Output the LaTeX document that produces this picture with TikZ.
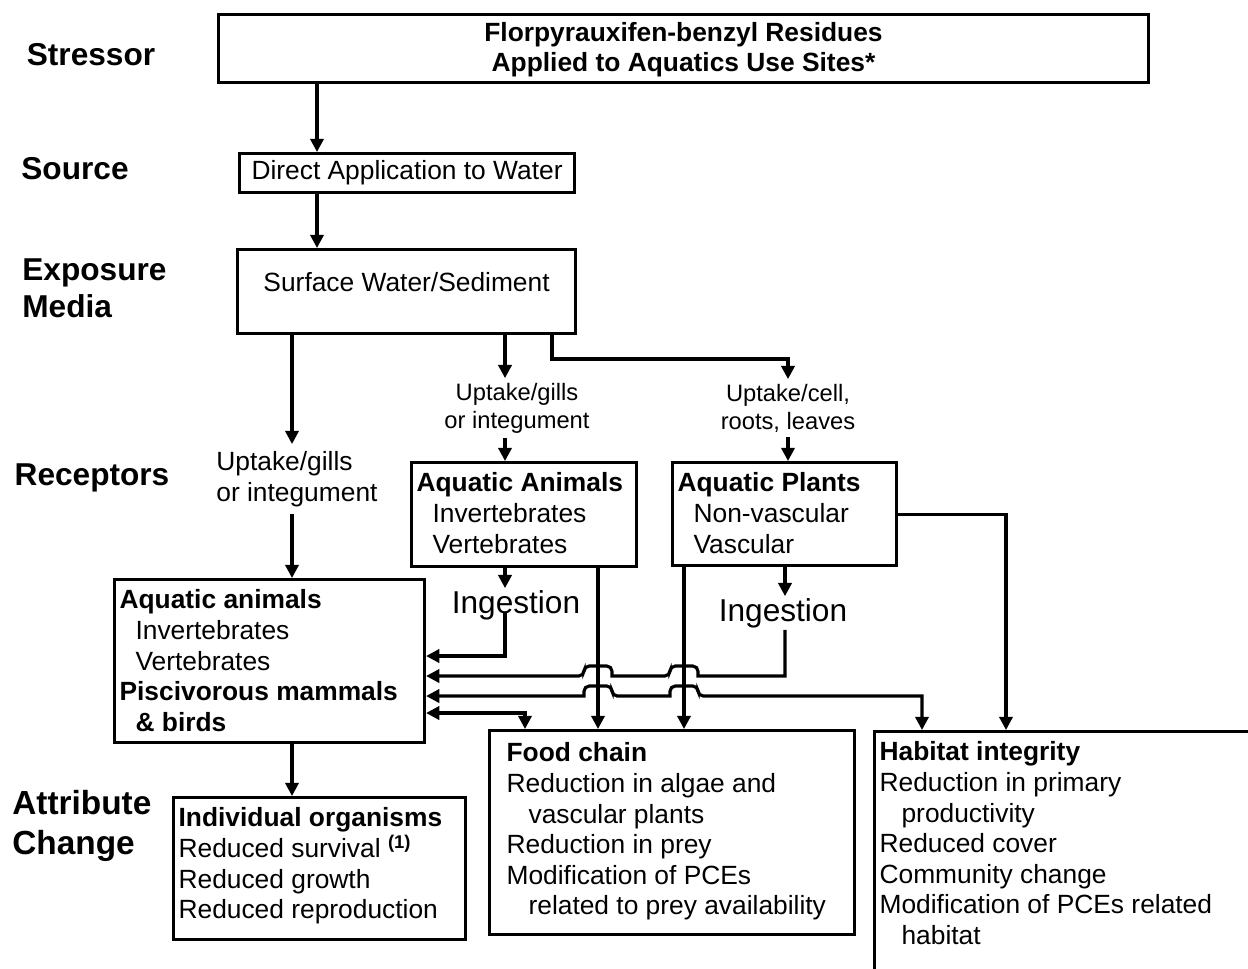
\documentclass[tikz,border=0pt]{standalone}
\usepackage{fontspec}
\setmainfont{Liberation Sans}
\usetikzlibrary{arrows.meta,calc}

\newcommand{\boxtext}[3]{\begin{minipage}[t][#2][t]{#1}\vspace*{3pt}#3\end{minipage}}
\newcommand{\indsm}{\hspace*{0.32cm}}
\newcommand{\indlg}{\hspace*{0.44cm}}

\tikzset{
  box/.style={draw, line width=1.8pt, inner sep=0.1cm, anchor=north west,
    font=\fontsize{15}{17.4}\selectfont},
  arr/.style={line width=1.8pt, -{Triangle[length=7.5pt,width=7.5pt]}},
  arrboth/.style={line width=1.8pt,
    {Triangle[length=7.5pt,width=7.5pt]}-{Triangle[length=7.5pt,width=7.5pt]}},
  stage/.style={font=\fontsize{18}{21}\selectfont\bfseries, align=left, inner sep=0pt},
  route/.style={font=\fontsize{15}{17.4}\selectfont, align=left, inner sep=4pt},
  routesm/.style={font=\fontsize{13.5}{16}\selectfont, align=center, inner sep=2.5pt},
  ingest/.style={font=\fontsize{18}{21}\selectfont, inner sep=1pt},
}

\begin{document}
\begin{tikzpicture}[x=0.02cm, y=-0.02cm]

  \path[use as bounding box] (0,0) rectangle (1248,968);
  \clip (0,0) rectangle (1248,968);

  % Stage labels
  \node[stage] (lblStressor) at (91,55) {Stressor};
  \node[stage] (lblSource) at (75,169) {Source};
  \node[stage, anchor=west] (lblMedia) at (22,288) {Exposure\\Media};
  \node[stage] (lblReceptors) at (92,478) {Receptors};
  \node[stage, anchor=west, font=\fontsize{19}{22.7}\selectfont\bfseries] (lblAttr) at (12,826) {Attribute\\Change};

  % Boxes
  \node[box, minimum width=18.6cm, minimum height=1.36cm, inner sep=0pt] (stress) at (217,13)
    {\bfseries\begin{tabular}{@{}c@{}}\rule{0pt}{14pt}Florpyrauxifen-benzyl Residues\\Applied to Aquatics Use Sites*\end{tabular}};
  \node[box, minimum width=6.7cm, minimum height=0.78cm, inner sep=0pt] (direct) at (238,152)
    {Direct Application to Water};
  \node[box] (media) at (236,248)
    {\boxtext{6.56cm}{1.48cm}{\centering\vspace*{0.26cm}Surface Water/Sediment}};
  \node[box] (animals) at (410,461)
    {\boxtext{4.3cm}{1.88cm}{\textbf{Aquatic Animals}\\\indsm Invertebrates\\\indsm Vertebrates}};
  \node[box] (plants) at (671,461)
    {\boxtext{4.28cm}{1.86cm}{\textbf{Aquatic Plants}\\\indsm Non-vascular\\\indsm Vascular}};
  \node[box] (recep) at (113,578)
    {\boxtext{6.0cm}{3.06cm}{\textbf{Aquatic animals}\\\indsm Invertebrates\\\indsm Vertebrates\\
      \textbf{Piscivorous mammals}\\\indsm\textbf{\& birds}}};
  \node[box] (indiv) at (172,796)
    {\boxtext{5.64cm}{2.64cm}{\textbf{Individual organisms}\\Reduced survival \textsuperscript{\bfseries(1)}\\
      Reduced growth\\Reduced reproduction}};
  \node[box] (food) at (488,729)
    {\boxtext{7.1cm}{3.88cm}{\leftskip=0.24cm\vspace*{0.04cm}\textbf{Food chain}\\Reduction in algae and\\
      \indlg vascular plants\\Reduction in prey\\Modification of PCEs\\\indlg related to prey availability}};
  \node[box] (habitat) at (873,730)
    {\boxtext{9cm}{6cm}{\textbf{Habitat integrity}\\Reduction in primary\\\indlg productivity\\Reduced cover\\
      Community change\\Modification of PCEs related\\\indlg habitat}};

  % Route labels
  \node[route, anchor=west] (upL) at (209,479) {Uptake/gills\\or integument};
  \node[routesm] (upM) at (517,408) {Uptake/gills\\or integument};
  \node[routesm] (upP) at (788,408) {Uptake/cell,\\roots, leaves};
  \node[ingest] (ingA) at (516,605) {Ingestion};
  \node[ingest] (ingP) at (783,613) {Ingestion};

  % Connector columns and rows
  \coordinate (cSrc) at (317,0);
  \coordinate (cL) at (292,0);
  \coordinate (cM) at (505,0);
  \coordinate (cMP) at (552,0);
  \coordinate (cP) at (788,0);
  \coordinate (cIP) at (785,0);
  \coordinate (cFA) at (598,0);
  \coordinate (cFP) at (684,0);
  \coordinate (cFL) at (525,0);
  \coordinate (cH) at (1006,0);
  \coordinate (cH2) at (922,0);
  \coordinate (rowU) at (0,359);
  \coordinate (rowA) at (0,656);
  \coordinate (rowP) at (0,676);
  \coordinate (rowH) at (0,696);
  \coordinate (rowD) at (0,713);

  % Stressor to media
  \draw[arr] (stress.south -| cSrc) -- (direct.north -| cSrc);
  \draw[arr] (direct.south -| cSrc) -- (media.north -| cSrc);

  % Media to receptors
  \draw[arr] (media.south -| cL) -- (upL.north -| cL);
  \draw[arr] (upL.south -| cL) -- (recep.north -| cL);
  \draw[arr] (media.south -| cM) -- (upM.north -| cM);
  \draw[arr] (upM.south -| cM) -- (animals.north -| cM);
  \draw[arr] (media.south -| cMP) -- (cMP |- rowU) -| (upP.north -| cP);
  \draw[arr] (upP.south -| cP) -- (plants.north -| cP);

  % Receptors to effects
  \draw[arr] (animals.south -| cM) -- (ingA.north -| cM);
  \draw[arr] (ingA.base -| cM) |- (recep.east |- rowA);
  \draw[arr] (plants.south -| cIP) -- (ingP.north -| cIP);
  \draw[arr] (animals.south -| cFA) -- (food.north -| cFA);
  \draw[arr] (plants.south -| cFP) -- (food.north -| cFP);
  \draw[arr] (plants.east) -| (habitat.north -| cH);
  \draw[arr] (recep.south -| cL) -- (indiv.north -| cL);

  % Lines hopping over the food chain arrows
  \draw[arr] (ingP.south -| cIP) -- (cIP |- rowP) -- ($(cFP |- rowP)+(14,0)$)
    [rounded corners=3pt] -- ++(0,-10) -- ++(-28,0) -- ++(0,10) [sharp corners]
    -- ($(cFA |- rowP)+(14,0)$)
    [rounded corners=3pt] -- ++(0,-10) -- ++(-28,0) -- ++(0,10) [sharp corners]
    -- (recep.east |- rowP);
  \draw[arrboth] (recep.east |- rowH) -- ($(cFA |- rowH)+(-14,0)$)
    [rounded corners=3pt] -- ++(0,-10) -- ++(28,0) -- ++(0,10) [sharp corners]
    -- ($(cFP |- rowH)+(-14,0)$)
    [rounded corners=3pt] -- ++(0,-10) -- ++(28,0) -- ++(0,10) [sharp corners]
    -| (habitat.north -| cH2);
  \draw[arrboth] (recep.east |- rowD) -| (food.north -| cFL);

\end{tikzpicture}
\end{document}
